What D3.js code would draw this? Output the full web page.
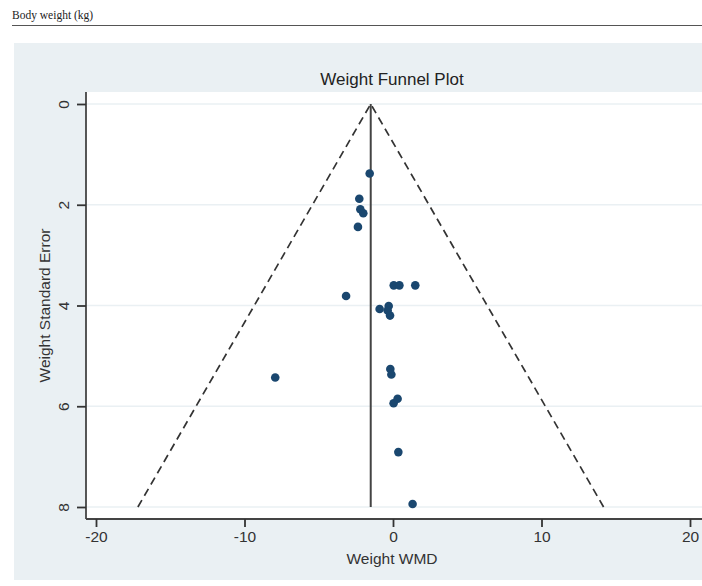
<!DOCTYPE html>
<html><head><meta charset="utf-8">
<script src="https://cdn.jsdelivr.net/npm/d3@7/dist/d3.min.js"></script>
<style>body{margin:0;background:#fff;overflow:hidden}svg{display:block}</style>
</head><body>
<svg id="c" width="702" height="586"></svg>
<script>
const header = "Body weight (kg)";
const title = "Weight Funnel Plot";
const xTitle = "Weight WMD";
const yTitle = "Weight Standard Error";
const xTicks = [-20, -10, 0, 10, 20];
const yTicks = [0, 2, 4, 6, 8];
const pooled = -1.5;
const seMax = 8;
const wmd = [-1.57, -2.27, -2.20, -2.0, -2.36, 0.05, 0.43, 1.5, -3.16, -0.9, -0.29, -0.36, -0.2, -7.93, -0.18, -0.11, 0.04, 0.31, 0.36, 1.32];
const se  = [1.38, 1.88, 2.09, 2.17, 2.44, 3.6, 3.6, 3.6, 3.81, 4.07, 4.01, 4.10, 4.2, 5.43, 5.26, 5.37, 5.94, 5.85, 6.91, 7.94];

const svg = d3.select("#c");
const x = d3.scaleLinear().domain([-20, 20]).range([96, 690]);
const y = d3.scaleLinear().domain([0, 8]).range([104, 507]);
const plotL = 86, plotT = 92, plotB = 519, plotR = 730;

// header
svg.append("text").attr("x", 12).attr("y", 19).attr("font-family", "Liberation Serif, serif")
  .attr("font-size", 11.5).attr("fill", "#222").text(header);
svg.append("line").attr("x1", 12).attr("x2", 702).attr("y1", 25.5).attr("y2", 25.5)
  .attr("stroke", "#555").attr("stroke-width", 1);

// panel
svg.append("rect").attr("x", 14).attr("y", 43).attr("width", 702).attr("height", 537).attr("fill", "#eaf0f3");
svg.append("rect").attr("x", plotL).attr("y", plotT).attr("width", plotR - plotL).attr("height", plotB - plotT).attr("fill", "#fff");

// gridlines
svg.append("g").selectAll("line").data(yTicks).join("line")
  .attr("x1", plotL).attr("x2", plotR).attr("y1", d => y(d)).attr("y2", d => y(d))
  .attr("stroke", "#eaf0f3").attr("stroke-width", 1.5);

// axes
const font = "Liberation Sans, Arial, sans-serif";
const fmt = d => String(d);
const xAxis = svg.append("g").attr("transform", `translate(0,${plotB})`)
  .call(d3.axisBottom(x).tickValues(xTicks).tickFormat(fmt).tickSize(8).tickSizeOuter(0).tickPadding(4));
xAxis.select(".domain").attr("d", `M${plotL},0H${plotR}`);
const yAxis = svg.append("g").attr("transform", `translate(${plotL},0)`)
  .call(d3.axisLeft(y).tickValues(yTicks).tickFormat(fmt).tickSize(9).tickSizeOuter(0));
yAxis.select(".domain").attr("d", `M0,${plotT}V${plotB}`);
[xAxis, yAxis].forEach(a => {
  a.selectAll(".domain").attr("stroke", "#444").attr("stroke-width", 1.8);
  a.selectAll(".tick line").attr("stroke", "#333").attr("stroke-width", 1.8);
  a.selectAll("text").attr("font-family", font).attr("font-size", 15.5).attr("fill", "#333");
});
yAxis.selectAll(".tick text").attr("transform", "rotate(-90)").attr("x", 0).attr("y", -17)
  .attr("dy", "0").attr("text-anchor", "middle");

// titles
svg.append("text").attr("x", 392).attr("y", 85).attr("text-anchor", "middle")
  .attr("font-family", font).attr("font-size", 17).attr("fill", "#222").text(title);
svg.append("text").attr("x", 392).attr("y", 564).attr("text-anchor", "middle")
  .attr("font-family", font).attr("font-size", 15.5).attr("fill", "#333").text(xTitle);
svg.append("text").attr("transform", `translate(50,${(plotT + plotB) / 2}) rotate(-90)`).attr("text-anchor", "middle")
  .attr("font-family", font).attr("font-size", 15.5).attr("fill", "#333").text(yTitle);

// funnel lines
const z = 1.96;
const funnel = [[pooled - z * seMax, seMax], [pooled, 0], [pooled + z * seMax, seMax]];
svg.append("path").attr("d", d3.line().x(d => x(d[0])).y(d => y(d[1]))(funnel))
  .attr("fill", "none").attr("stroke", "#333").attr("stroke-width", 1.7).attr("stroke-dasharray", "8,5");
svg.append("line").attr("x1", x(pooled)).attr("x2", x(pooled)).attr("y1", y(0)).attr("y2", y(seMax))
  .attr("stroke", "#444").attr("stroke-width", 2);

// points
svg.append("g").selectAll("circle").data(wmd.map((d, i) => [d, se[i]])).join("circle")
  .attr("cx", d => x(d[0])).attr("cy", d => y(d[1])).attr("r", 4.3).attr("fill", "#1a476f");
</script>
</body></html>
